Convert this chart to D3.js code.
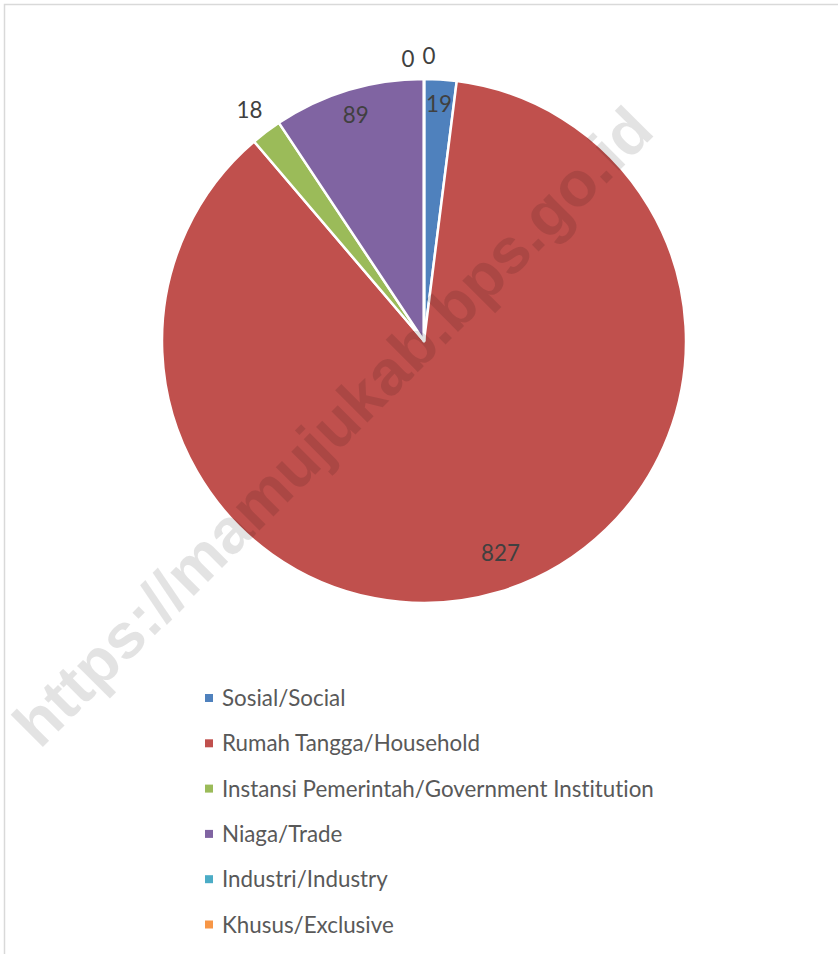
<!DOCTYPE html>
<html><head><meta charset="utf-8">
<script src="https://cdn.jsdelivr.net/npm/d3@7"></script>
<style>body{margin:0;background:#fff;overflow:hidden} text{font-variant-ligatures:none;font-feature-settings:"liga" 0,"clig" 0}</style>
</head><body>
<svg id="c" width="838" height="954"></svg>
<script>
// ---- data ----
const categories = ["Sosial/Social","Rumah Tangga/Household","Instansi Pemerintah/Government Institution","Niaga/Trade","Industri/Industry","Khusus/Exclusive"];
const values = [19, 827, 18, 89, 0, 0];
const colors = ["#4F81BD","#C0504D","#9BBB59","#8064A2","#4BACC6","#F79646"];
const watermarkText = "https://mamujukab.bps.go.id";

// ---- layout config ----
const W = 838, H = 954;
const cx = 424, cy = 341, R = 262;
const labelRadius = [0.908, 0.86, 1.107, 0.90, 1.075, 1.09];
const labelNudge = [[0,0],[12,-4],[0,0],[0,0],[-16,0],[5,0]];
const FONT = "Lato, 'Open Sans', sans-serif";
const FS = 22.5;

const svg = d3.select("#c");

// border
svg.append("rect").attr("x",4.5).attr("y",4.5).attr("width",W+10).attr("height",H+10)
  .attr("fill","none").attr("stroke","#d9d9d9").attr("stroke-width",1.5);

const pie = d3.pie().value(d=>d).sort(null);
const arcs = pie(values);
const arc = d3.arc().innerRadius(0).outerRadius(R);

const g = svg.append("g").attr("transform",`translate(${cx},${cy})`);
g.selectAll("path").data(arcs).join("path")
  .attr("d",arc)
  .attr("fill",(d,i)=>colors[i])
  .attr("stroke","#fff").attr("stroke-width",2.5).attr("stroke-linejoin","round");

// watermark
svg.append("text")
  .attr("transform","translate(348,442) rotate(-45)")
  .attr("text-anchor","middle")
  .attr("font-family","'Liberation Sans', Arial, sans-serif")
  .attr("font-weight","bold")
  .attr("font-size",63)
  .attr("fill","#000").attr("fill-opacity",0.11)
  .attr("textLength",872).attr("lengthAdjust","spacingAndGlyphs")
  .text(watermarkText);

// measure horizontal compression for legend font
const probe = svg.append("text").attr("font-family",FONT).attr("font-size",FS).text(categories[2]);
const sx = 432 / probe.node().getComputedTextLength();
probe.remove();

// data labels
const labels = g.selectAll("g.lab").data(arcs).join("g").attr("class","lab")
  .attr("transform",(d,i)=>{
    const a = (d.startAngle + d.endAngle)/2;
    const r = R*labelRadius[i];
    const x = r*Math.sin(a) + labelNudge[i][0];
    const y = -r*Math.cos(a) + labelNudge[i][1];
    return `translate(${x},${y}) scale(${sx},1)`;
  });
labels.append("text")
  .attr("text-anchor","middle").attr("dy","0.36em")
  .attr("font-family",FONT).attr("font-size",FS).attr("fill","#404040")
  .text(d=>d.data);

// legend
const legY = d3.scalePoint().domain(categories).range([698, 924.5]);
const items = svg.append("g").selectAll("g").data(categories).join("g")
  .attr("transform",d=>`translate(0,${legY(d)})`);
items.append("rect").attr("x",205).attr("y",-4).attr("width",8).attr("height",8)
  .attr("fill",(d,i)=>colors[i]);
items.append("text")
  .attr("transform",`translate(222,0) scale(${sx},1)`)
  .attr("dy","0.36em")
  .attr("font-family",FONT).attr("font-size",FS).attr("fill","#595959")
  .text(d=>d);
</script>
</body></html>
